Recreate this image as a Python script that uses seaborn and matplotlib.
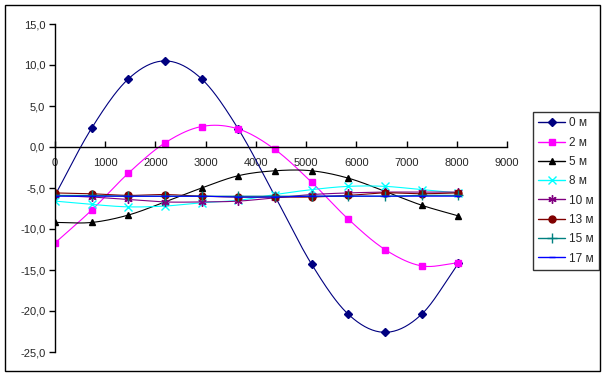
import matplotlib
matplotlib.use("Agg")
import matplotlib.pyplot as plt
import numpy as np
import pandas as pd
import seaborn as sns
from matplotlib.lines import Line2D
from matplotlib.patches import Rectangle
from matplotlib.ticker import FuncFormatter

sns.set_style("white")
plt.rcParams['font.family'] = ['Liberation Sans', 'DejaVu Sans']

# time points and temperature per depth
days = [0, 730, 1460, 2190, 2920, 3650, 4380, 5110, 5840, 6570, 7300, 8030]
depth_labels = ["0 м", "2 м", "5 м", "8 м", "10 м", "13 м", "15 м", "17 м"]
t_0m = [-5.9, 2.3, 8.3, 10.5, 8.3, 2.2, -6.0, -14.3, -20.4, -22.6, -20.4, -14.2]
t_2m = [-11.7, -7.7, -3.2, 0.5, 2.5, 2.2, -0.3, -4.3, -8.8, -12.5, -14.5, -14.1]
t_5m = [-9.2, -9.2, -8.3, -6.7, -5.0, -3.5, -2.9, -2.9, -3.8, -5.4, -7.1, -8.4]
t_8m = [-6.6, -7.0, -7.3, -7.2, -6.8, -6.5, -5.8, -5.2, -4.8, -4.8, -5.2, -5.6]
t_10m = [-5.9, -6.1, -6.4, -6.7, -6.7, -6.6, -6.2, -5.8, -5.6, -5.5, -5.5, -5.5]
t_13m = [-5.6, -5.7, -5.9, -5.8, -6.0, -6.1, -6.1, -6.1, -5.9, -5.6, -5.7, -5.6]
t_15m = [-5.9, -5.9, -6.0, -6.0, -6.0, -6.0, -6.0, -6.0, -6.0, -6.0, -5.9, -5.9]
t_17m = [-6.0, -6.0, -6.0, -6.0, -6.0, -6.1, -6.1, -6.0, -6.0, -6.0, -6.0, -6.0]
series = [t_0m, t_2m, t_5m, t_8m, t_10m, t_13m, t_15m, t_17m]

colors = ["#000080", "#FF00FF", "#000000", "#00FFFF", "#800080", "#800000", "#008080", "#0000FF"]
markers = ["D", "s", "^", "x", (6, 2, 0), "o", "+", "_"]
msizes = [4, 5, 5, 6, 6, 5, 7, 5]


# excel-style smoothed line (catmull-rom through the points)
def smooth(x, y, n=20):
    x = np.asarray(x, float)
    y = np.asarray(y, float)
    px = np.concatenate([[2 * x[0] - x[1]], x, [2 * x[-1] - x[-2]]])
    py = np.concatenate([[2 * y[0] - y[1]], y, [2 * y[-1] - y[-2]]])
    xs, ys = [], []
    t = np.linspace(0, 1, n, endpoint=False)
    for i in range(1, len(px) - 2):
        for p, out in ((px, xs), (py, ys)):
            p0, p1, p2, p3 = p[i - 1], p[i], p[i + 1], p[i + 2]
            out.append(0.5 * (2 * p1 + (-p0 + p2) * t + (2 * p0 - 5 * p1 + 4 * p2 - p3) * t ** 2
                              + (-p0 + 3 * p1 - 3 * p2 + p3) * t ** 3))
    xs.append([x[-1]])
    ys.append([y[-1]])
    return np.concatenate(xs), np.concatenate(ys)


fig = plt.figure(figsize=(6.06, 3.76), dpi=100)
ax = fig.add_axes([55 / 606, 1 - 352 / 376, (507 - 55) / 606, (352 - 24) / 376])

handles = []
for lab, vals, c, m, ms in zip(depth_labels, series, colors, markers, msizes):
    sx, sy = smooth(days, vals)
    sm = pd.DataFrame({"x": sx, "y": sy})
    sns.lineplot(data=sm, x="x", y="y", ax=ax, color=c, linewidth=0.8, sort=False,
                 estimator=None, legend=False)
    ax.plot(days, vals, linestyle="none", marker=m, color=c, markersize=ms,
            markeredgewidth=1.0)
    handles.append(Line2D([0], [0], color=c, marker=m, markersize=ms, linewidth=1.0,
                          markeredgewidth=1.0, label=lab))

ax.set_xlim(0, 9000)
ax.set_ylim(-25, 15)
ax.set_xticks(range(0, 9001, 1000))
ax.set_yticks(np.arange(-25, 15.1, 5))
ax.yaxis.set_major_formatter(FuncFormatter(lambda v, p: f"{v:.1f}".replace(".", ",")))
ax.set_xlabel("")
ax.set_ylabel("")

for s in ["top", "right"]:
    ax.spines[s].set_visible(False)
ax.spines["bottom"].set_position(("data", 0))
for s in ["left", "bottom"]:
    ax.spines[s].set_linewidth(1.0)
    ax.spines[s].set_color("black")
ax.tick_params(axis="x", direction="in", length=4, width=1, pad=8, labelsize=8, color="black", bottom=True)
ax.tick_params(axis="y", direction="out", length=4, width=1, pad=3, labelsize=8, color="black", left=True)
ax.patch.set_alpha(0)

leg = fig.legend(handles=handles, loc="upper left", bbox_to_anchor=(533 / 606, 1 - 112 / 376),
                 frameon=True, fontsize=8.5, handlelength=2.3, handletextpad=0.3,
                 labelspacing=0.62, borderpad=0.45, borderaxespad=0, fancybox=False)
leg.get_frame().set_edgecolor("black")
leg.get_frame().set_linewidth(1.0)

fig.patches.append(Rectangle((5 / 606, 5 / 376), 595 / 606, 366 / 376, transform=fig.transFigure,
                             fill=False, edgecolor="black", linewidth=1.0))

fig.savefig("out.png", dpi=100)
